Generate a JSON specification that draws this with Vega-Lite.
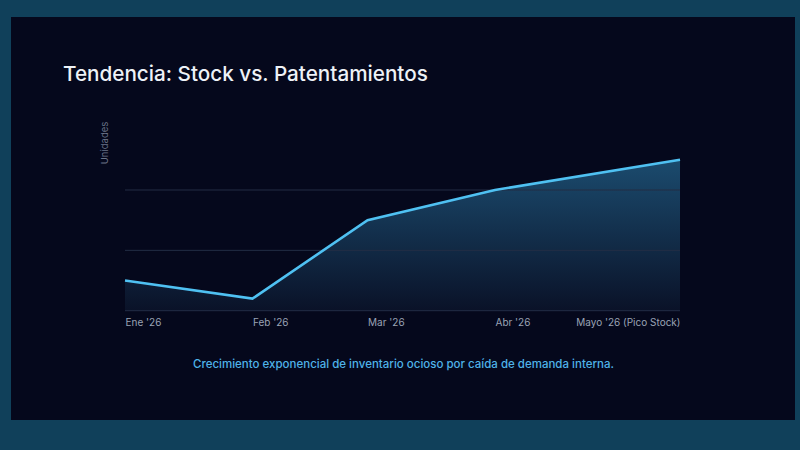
{
  "$schema": "https://vega.github.io/schema/vega-lite/v6.json",
  "width": 784,
  "height": 403,
  "autosize": {"type": "none"},
  "padding": {"left": 11, "top": 17, "right": 5, "bottom": 30},
  "background": "#10405a",
  "config": {
    "font": "Inter",
    "view": {"fill": "#05081c", "stroke": null}
  },
  "title": {
    "text": "Tendencia: Stock vs. Patentamientos",
    "anchor": "start",
    "frame": "group",
    "orient": "top",
    "offset": -85,
    "dx": 52,
    "baseline": "alphabetic",
    "font": "Inter",
    "fontSize": 20.7,
    "fontWeight": 500,
    "color": "#eef2f7"
  },
  "datasets": {
    "serie": [
      {"fecha": "2026-01-01", "unidades": 2500},
      {"fecha": "2026-02-01", "unidades": 1000},
      {"fecha": "2026-03-01", "unidades": 7500},
      {"fecha": "2026-04-01", "unidades": 10000},
      {"fecha": "2026-05-16", "unidades": 12500}
    ],
    "grilla": [
      {"unidades": 0},
      {"unidades": 5000},
      {"unidades": 10000}
    ]
  },
  "layer": [
    {
      "data": {"name": "serie"},
      "mark": {
        "type": "area",
        "fill": {
          "gradient": "linear",
          "x1": 0, "y1": 0, "x2": 0, "y2": 1,
          "stops": [
            {"offset": 0, "color": "#1b4b6e"},
            {"offset": 1, "color": "#0a1228"}
          ]
        }
      },
      "encoding": {
        "x": {
          "field": "fecha",
          "type": "temporal",
          "scale": {
            "type": "utc",
            "domain": [
              {"year": 2025, "month": 12, "date": 4, "hours": 6, "minutes": 30, "utc": true},
              {"year": 2026, "month": 6, "date": 12, "hours": 23, "minutes": 17, "utc": true}
            ]
          },
          "axis": {
            "orient": "bottom",
            "offset": -109.3,
            "values": [
              {"year": 2026, "month": 1, "date": 1, "utc": true},
              {"year": 2026, "month": 2, "date": 1, "utc": true},
              {"year": 2026, "month": 3, "date": 1, "utc": true},
              {"year": 2026, "month": 4, "date": 1, "utc": true},
              {"year": 2026, "month": 5, "date": 16, "utc": true}
            ],
            "labelExpr": "[\"Ene '26\", \"Feb '26\", \"Mar '26\", \"Abr '26\", \"Mayo '26 (Pico Stock)\"][utcmonth(datum.value)]",
            "labelAlign": {"condition": {"test": "utcmonth(datum.value) == 4", "value": "right"}, "value": "left"},
            "labelBaseline": "top",
            "labelFont": "Inter",
            "labelFontSize": 10,
            "labelColor": "#9aa3b5",
            "labelPadding": 7,
            "labelFlush": false,
            "labelOverlap": false,
            "ticks": false,
            "domain": false,
            "grid": false,
            "title": "Crecimiento exponencial de inventario ocioso por caída de demanda interna.",
            "titleFont": "Inter",
            "titleFontSize": 11.5,
            "titleFontWeight": 500,
            "titleColor": "#4fb3e8",
            "titlePadding": 31
          }
        },
        "y": {
          "field": "unidades",
          "type": "quantitative",
          "scale": {"domain": [-9056, 24333], "nice": false, "zero": false},
          "axis": {
            "orient": "left",
            "offset": -114,
            "labels": false,
            "ticks": false,
            "domain": false,
            "grid": false,
            "title": "Unidades",
            "titleFont": "Inter",
            "titleFontSize": 9.5,
            "titleFontWeight": "normal",
            "titleColor": "#6b7488",
            "titlePadding": 16,
            "titleY": 125.5,
            "titleAlign": "center"
          }
        },
        "y2": {"datum": 0}
      }
    },
    {
      "data": {"name": "grilla"},
      "mark": {"type": "rule", "stroke": "#232d45", "strokeWidth": 1},
      "encoding": {
        "y": {"field": "unidades", "type": "quantitative"},
        "x": {"datum": {"year": 2026, "month": 1, "date": 1, "utc": true}, "type": "temporal"},
        "x2": {"datum": {"year": 2026, "month": 5, "date": 16, "utc": true}}
      }
    },
    {
      "data": {"name": "serie"},
      "mark": {"type": "line", "stroke": "#4fc1f2", "strokeWidth": 2.6, "strokeJoin": "miter"},
      "encoding": {
        "x": {"field": "fecha", "type": "temporal"},
        "y": {"field": "unidades", "type": "quantitative"}
      }
    }
  ]
}
